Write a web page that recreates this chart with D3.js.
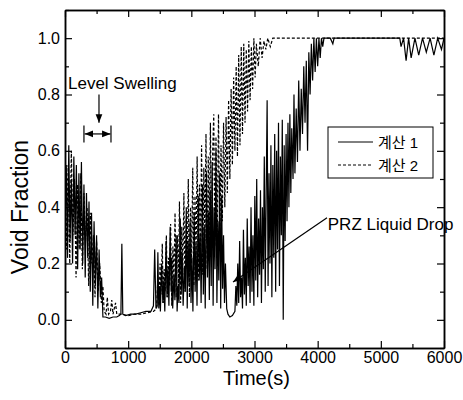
<!DOCTYPE html>
<html>
<head>
<meta charset="utf-8">
<script src="https://cdn.jsdelivr.net/npm/d3@7"></script>
<style>
  body { margin: 0; background: #fff; }
  svg { display: block; font-family: "Liberation Sans", Arial, "Noto Sans CJK KR", sans-serif; }
</style>
</head>
<body>
<svg id="canvas"></svg>
<script>
// tick labels
let xMajor = [0, 1000, 2000, 3000, 4000, 5000, 6000]
let xMinor = [500, 1500, 2500, 3500, 4500, 5500]
let yMajor = [0.0, 0.2, 0.4, 0.6, 0.8, 1.0]
let yMinor = [-0.1, 0.1, 0.3, 0.5, 0.7, 0.9, 1.1]
let seriesNames = ['계산 1', '계산 2']

// 계산 1 : [time (s), void fraction]
let calc1 = [
  [0,0.30],[20,0.55],[40,0.22],[60,0.62],[80,0.28],[100,0.50],[120,0.20],[140,0.58],[160,0.30],[180,0.55],
  [200,0.18],[220,0.52],[240,0.25],[260,0.56],[280,0.20],[300,0.48],[320,0.15],[340,0.45],[360,0.22],[380,0.42],
  [400,0.10],[420,0.38],[440,0.05],[460,0.35],[480,0.12],[500,0.30],[520,0.04],[540,0.25],[560,0.08],[580,0.15],
  [600,0.01],[640,0.01],[700,0.005],[760,0.01],[820,0.01],[860,0.015],[885,0.02],[900,0.27],[915,0.02],[960,0.015],
  [1040,0.02],[1120,0.02],[1200,0.025],[1280,0.03],[1360,0.03],[1400,0.05],[1420,0.25],[1440,0.04],[1460,0.05],
  [1470,0.24],[1485,0.04],[1500,0.12],[1510,0.03],[1530,0.20],[1550,0.06],[1565,0.14],[1580,0.03],[1600,0.28],[1615,0.08],
  [1630,0.18],[1645,0.05],[1665,0.33],[1680,0.10],[1690,0.22],[1705,0.04],[1725,0.16],[1740,0.07],[1760,0.30],[1775,0.03],
  [1790,0.12],[1805,0.06],[1825,0.36],[1840,0.09],[1855,0.24],[1870,0.05],[1890,0.19],[1905,0.10],[1920,0.40],[1935,0.04],
  [1950,0.28],[1965,0.12],[1980,0.35],[1995,0.06],[2010,0.22],[2025,0.03],[2045,0.38],[2060,0.10],[2075,0.27],[2090,0.05],
  [2110,0.44],[2125,0.14],[2140,0.30],[2155,0.06],[2175,0.48],[2190,0.09],[2205,0.33],[2220,0.04],[2240,0.52],[2255,0.15],
  [2270,0.38],[2285,0.07],[2300,0.46],[2315,0.12],[2330,0.56],[2345,0.05],[2360,0.40],[2375,0.18],[2390,0.60],[2405,0.06],
  [2420,0.35],[2435,0.14],[2450,0.52],[2465,0.04],[2480,0.44],[2495,0.11],[2510,0.30],[2525,0.06],[2540,0.20],[2560,0.04],
  [2580,0.02],[2610,0.01],[2650,0.015],[2690,0.03],[2705,0.12],[2720,0.05],
  [2735,0.20],[2750,0.06],[2765,0.28],[2780,0.08],[2795,0.15],[2810,0.04],[2825,0.32],[2840,0.09],[2855,0.22],[2870,0.05],
  [2885,0.36],[2900,0.12],[2915,0.26],[2930,0.06],[2945,0.40],[2960,0.10],[2975,0.30],[2990,0.05],[3005,0.44],[3020,0.14],
  [3035,0.50],[3050,0.08],[3065,0.36],[3080,0.16],[3095,0.46],[3110,0.06],[3125,0.40],[3140,0.18],[3155,0.58],[3170,0.10],
  [3185,0.45],[3200,0.78],[3215,0.12],[3230,0.52],[3245,0.20],[3260,0.62],[3275,0.08],[3290,0.55],[3305,0.22],[3320,0.66],
  [3335,0.10],[3350,0.60],[3365,0.25],[3380,0.70],[3395,0.12],[3410,0.58],[3425,0.30],[3440,0.71],[3455,0.00],[3470,0.62],
  [3485,0.28],[3500,0.66],[3515,0.35],[3530,0.70],[3545,0.40],[3560,0.73],[3575,0.45],[3590,0.68],
  [3610,0.50],[3625,0.80],[3640,0.52],[3660,0.75],[3680,0.56],[3700,0.85],[3720,0.60],[3740,0.82],[3760,0.66],[3780,0.90],
  [3800,0.70],[3820,0.92],[3840,0.60],[3860,0.95],[3880,0.80],[3900,0.98],[3920,0.85],[3940,1.0],[3960,0.88],[3980,1.0],
  [4000,0.90],[4020,1.0],[4040,0.93],[4060,1.0],[4080,0.97],[4100,1.0],[4200,1.0],[4240,0.98],[4260,1.0],[4600,1.0],
  [5000,1.0],[5300,1.0],[5320,0.97],[5360,1.0],[5400,0.92],[5440,1.0],[5480,0.93],[5540,1.0],[5600,0.94],[5660,1.0],
  [5720,0.95],[5780,1.0],[5840,0.94],[5900,1.0],[5960,0.96],[6000,1.0]
]

// 계산 2 : [time (s), void fraction]
let calc2 = [
  [0,0.45],[25,0.25],[50,0.55],[75,0.20],[100,0.60],[125,0.30],[150,0.50],[175,0.15],[200,0.48],[225,0.25],
  [250,0.52],[275,0.18],[300,0.45],[325,0.28],[350,0.40],[375,0.12],[400,0.38],[425,0.20],[450,0.30],[475,0.08],
  [500,0.28],[525,0.10],[550,0.20],[575,0.06],[600,0.12],[620,0.03],[650,0.02],[670,0.08],[690,0.02],[720,0.03],
  [740,0.07],[760,0.02],[800,0.06],[820,0.02],[900,0.02],[1000,0.015],[1100,0.02],[1200,0.02],[1300,0.025],[1400,0.03],
  [1450,0.04],[1470,0.15],[1488,0.05],[1505,0.20],[1520,0.09],[1540,0.27],[1555,0.06],[1570,0.18],[1585,0.10],[1605,0.30],
  [1620,0.08],[1638,0.22],[1655,0.12],[1672,0.34],[1690,0.05],[1708,0.26],[1725,0.14],[1742,0.38],[1760,0.08],[1778,0.30],
  [1795,0.12],[1812,0.42],[1830,0.06],[1848,0.33],[1865,0.16],[1882,0.45],[1900,0.10],[1918,0.36],[1935,0.18],[1952,0.50],
  [1970,0.08],[1988,0.40],[2005,0.20],[2022,0.54],[2040,0.12],[2058,0.44],[2075,0.22],[2092,0.58],[2110,0.14],[2128,0.48],
  [2145,0.25],[2162,0.62],[2180,0.16],[2198,0.54],[2215,0.28],[2232,0.66],[2250,0.18],[2268,0.58],[2285,0.30],[2302,0.70],
  [2320,0.22],[2338,0.60],[2355,0.73],[2372,0.26],[2390,0.65],[2410,0.30],[2430,0.73],[2450,0.28],[2470,0.62],[2490,0.35],
  [2510,0.70],[2530,0.40],[2550,0.72],[2570,0.45],[2590,0.78],[2610,0.50],[2630,0.82],[2650,0.55],[2670,0.86],[2690,0.60],
  [2710,0.90],[2730,0.58],[2750,0.94],[2770,0.62],[2790,0.97],[2810,0.66],[2830,0.98],[2850,0.70],[2870,0.96],[2890,0.74],
  [2910,0.99],[2930,0.78],[2950,0.97],[2970,0.82],[2990,1.0],[3010,0.86],[3030,0.98],[3060,0.90],[3090,1.0],[3120,0.93],
  [3150,0.99],[3180,0.96],[3210,1.0],[3250,0.97],[3290,1.0],[4500,1.0],[6000,1.0]
]

let width = 463
let height = 400
let padLeft = 65, padRight = 444, padTop = 10, padBottom = 348

let canvas = d3.select('#canvas')
  .attr('width', width)
  .attr('height', height)

let xScale = d3.scaleLinear().domain([0, 6000]).range([padLeft, padRight])
let yScale = d3.scaleLinear().domain([-0.1, 1.1]).range([padBottom, padTop])

canvas.append('clipPath').attr('id', 'plot-clip')
  .append('rect')
  .attr('x', padLeft).attr('y', padTop)
  .attr('width', padRight - padLeft).attr('height', padBottom - padTop)

let line = d3.line()
  .x(d => xScale(d[0]))
  .y(d => yScale(d[1]))

let plot = canvas.append('g').attr('clip-path', 'url(#plot-clip)')

plot.append('path')
  .datum(calc2)
  .attr('d', line)
  .attr('fill', 'none')
  .attr('stroke', '#000')
  .attr('stroke-width', 1.2)
  .attr('stroke-dasharray', '3,2')

plot.append('path')
  .datum(calc1)
  .attr('d', line)
  .attr('fill', 'none')
  .attr('stroke', '#000')
  .attr('stroke-width', 1.2)

// axes, ticks pointing inward on all four sides
let drawAxis = (axis, tx, ty) => {
  let g = canvas.append('g')
    .attr('transform', 'translate(' + tx + ',' + ty + ')')
    .call(axis)
  g.select('.domain').attr('stroke-width', 1.5)
  g.selectAll('.tick line').attr('stroke-width', 1.2)
  g.selectAll('text')
    .attr('font-size', 16)
    .attr('font-family', '"Liberation Sans", Arial, sans-serif')
    .attr('fill', '#000')
  return g
}

drawAxis(d3.axisBottom(xScale).tickValues(xMajor).tickSize(-7).tickSizeOuter(0).tickPadding(4).tickFormat(d3.format('d')), 0, padBottom)
drawAxis(d3.axisBottom(xScale).tickValues(xMinor).tickSize(-4).tickSizeOuter(0).tickFormat(''), 0, padBottom)
drawAxis(d3.axisTop(xScale).tickValues(xMajor).tickSize(-7).tickSizeOuter(0).tickFormat(''), 0, padTop)
drawAxis(d3.axisTop(xScale).tickValues(xMinor).tickSize(-4).tickSizeOuter(0).tickFormat(''), 0, padTop)
drawAxis(d3.axisLeft(yScale).tickValues(yMajor).tickSize(-7).tickSizeOuter(0).tickPadding(5).tickFormat(d3.format('.1f')), padLeft, 0)
drawAxis(d3.axisLeft(yScale).tickValues(yMinor).tickSize(-4).tickSizeOuter(0).tickFormat(''), padLeft, 0)
drawAxis(d3.axisRight(yScale).tickValues(yMajor).tickSize(-7).tickSizeOuter(0).tickFormat(''), padRight, 0)
drawAxis(d3.axisRight(yScale).tickValues(yMinor).tickSize(-4).tickSizeOuter(0).tickFormat(''), padRight, 0)

// axis titles
canvas.append('text')
  .attr('x', (padLeft + padRight) / 2 + 2)
  .attr('y', 385)
  .attr('text-anchor', 'middle')
  .attr('font-size', 20)
  .text('Time(s)')

canvas.append('text')
  .attr('transform', 'translate(28,207) rotate(-90)')
  .attr('text-anchor', 'middle')
  .attr('font-size', 23)
  .text('Void Fraction')

// legend
let legend = canvas.append('g').attr('transform', 'translate(328,127)')
legend.append('rect')
  .attr('width', 105).attr('height', 51)
  .attr('fill', '#fff')
  .attr('stroke', '#000')
  .attr('stroke-width', 1)
seriesNames.forEach((name, i) => {
  let y = 15 + i * 23
  legend.append('line')
    .attr('x1', 10).attr('x2', 45)
    .attr('y1', y).attr('y2', y)
    .attr('stroke', '#000')
    .attr('stroke-width', 1)
    .attr('stroke-dasharray', i === 0 ? null : '3,2')
  legend.append('text')
    .attr('x', 50).attr('y', y + 6)
    .attr('font-size', 15)
    .text(name)
})

// annotations
let defs = canvas.append('defs')
defs.append('marker')
  .attr('id', 'head')
  .attr('viewBox', '0 0 10 10')
  .attr('refX', 10).attr('refY', 5)
  .attr('markerWidth', 7).attr('markerHeight', 7)
  .attr('orient', 'auto-start-reverse')
  .append('path')
  .attr('d', 'M0,1 L10,5 L0,9 Z')
  .attr('fill', '#000')

canvas.append('text')
  .attr('x', xScale(47)).attr('y', yScale(0.82))
  .attr('font-size', 17)
  .text('Level Swelling')

canvas.append('line')
  .attr('x1', xScale(538)).attr('x2', xScale(538))
  .attr('y1', yScale(0.80)).attr('y2', yScale(0.70))
  .attr('stroke', '#000').attr('stroke-width', 1.2)
  .attr('marker-end', 'url(#head)')

canvas.append('line')
  .attr('x1', xScale(310)).attr('x2', xScale(720))
  .attr('y1', yScale(0.66)).attr('y2', yScale(0.66))
  .attr('stroke', '#000').attr('stroke-width', 1.2)
  .attr('marker-start', 'url(#head)')
  .attr('marker-end', 'url(#head)')

;[300, 728].forEach(t => {
  canvas.append('line')
    .attr('x1', xScale(t)).attr('x2', xScale(t))
    .attr('y1', yScale(0.69)).attr('y2', yScale(0.63))
    .attr('stroke', '#000').attr('stroke-width', 1.2)
})

canvas.append('line')
  .attr('x1', xScale(4148)).attr('y1', yScale(0.362))
  .attr('x2', xScale(2660)).attr('y2', yScale(0.134))
  .attr('stroke', '#000').attr('stroke-width', 1.2)
  .attr('marker-end', 'url(#head)')

canvas.append('text')
  .attr('x', xScale(4160)).attr('y', yScale(0.319))
  .attr('font-size', 17)
  .text('PRZ Liquid Drop')
</script>
</body>
</html>
